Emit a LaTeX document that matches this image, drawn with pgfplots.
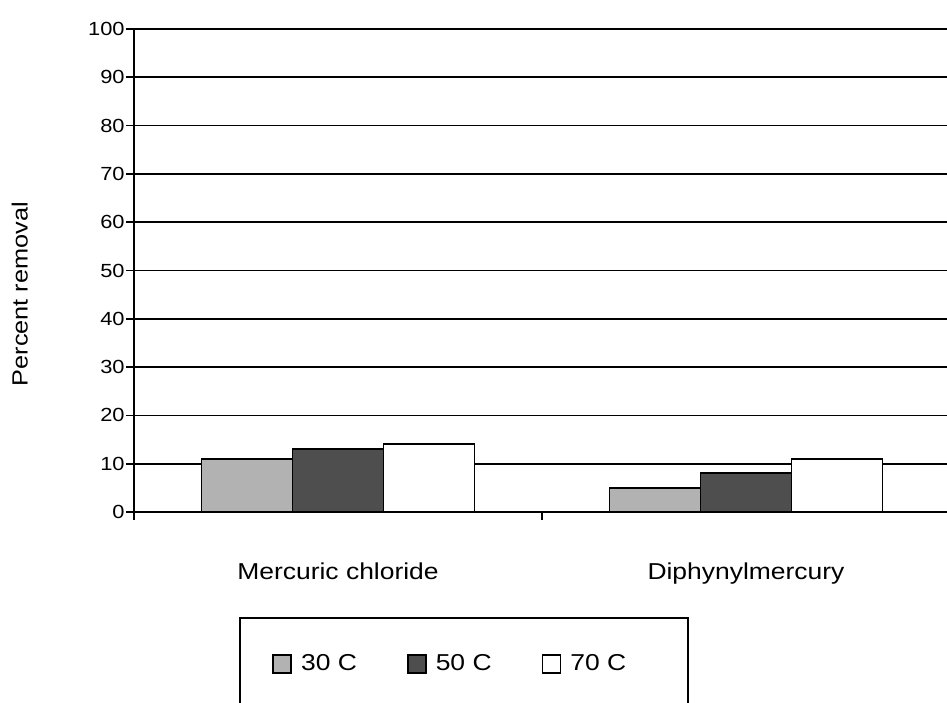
\documentclass[border=0pt]{standalone}
\usepackage{fontspec}
\setmainfont{Liberation Sans}[FakeStretch=1.15]
\usepackage{pgfplots}
\pgfplotsset{compat=1.18}
\definecolor{c30}{HTML}{B2B2B2}
\definecolor{c50}{HTML}{4E4E4E}
\pgfplotsset{sqlegend/.style={legend image code/.code={\draw[##1] (0pt,-4.5pt) rectangle (9pt,4.5pt);}}}
\begin{document}
\begin{tikzpicture}
\begin{axis}[
  at={(67pt,95pt)}, anchor=south west,
  scale only axis, width=408pt, height=241.5pt,
  xmin=-0.5, xmax=1.5, ymin=0, ymax=100,
  axis x line=bottom, axis y line=left,
  axis line style={-, line width=0.9pt, black},
  xtick={-0.5,0.5,1.5}, x tick label as interval,
  xticklabels={Mercuric chloride, Diphynylmercury},
  ytick={0,10,...,100},
  ymajorgrids, grid style={black, line width=0.9pt},
  tick align=outside, major tick length=4pt, tick style={black, line width=0.9pt},
  /pgf/number format/assume math mode=true,
  yticklabel style={font=\fontsize{9.5}{11}\selectfont, inner sep=0pt, xshift=-0.5pt},
  xticklabel style={font=\fontsize{11.5}{13}\selectfont, yshift=-18pt},
  ylabel={Percent removal},
  every axis y label/.style={at={(axis description cs:-0.14,0.451)}, rotate=90, anchor=center, font=\fontsize{11}{13}\selectfont},
  legend columns=3,
  legend style={at={(axis description cs:0.169,-0.3147)}, anchor=west, draw=none, fill=none, inner sep=0pt,
    font=\fontsize{11.5}{13}\selectfont, nodes={inner sep=0pt},
    /tikz/every odd column/.append style={column sep=4.5pt},
    /tikz/every even column/.append style={column sep=25pt}},
]
\addplot[ybar, bar width=0.223, bar shift=-0.223, fill=c30, draw=black, line width=0.9pt, sqlegend]
  coordinates {(0,11) (1,5)};
\addplot[ybar, bar width=0.223, bar shift=0, fill=c50, draw=black, line width=0.9pt, sqlegend]
  coordinates {(0,13) (1,8)};
\addplot[ybar, bar width=0.223, bar shift=0.223, fill=white, draw=black, line width=0.9pt, sqlegend]
  coordinates {(0,14) (1,11)};
\legend{30 C, 50 C, 70 C}
\end{axis}
\draw[line width=0.9pt] (120pt,-10pt) -- (120pt,42pt) -- (344pt,42pt) -- (344pt,-10pt);
\pgfresetboundingbox
\path[use as bounding box] (0pt,0pt) rectangle (473.5pt,351pt);
\end{tikzpicture}
\end{document}
